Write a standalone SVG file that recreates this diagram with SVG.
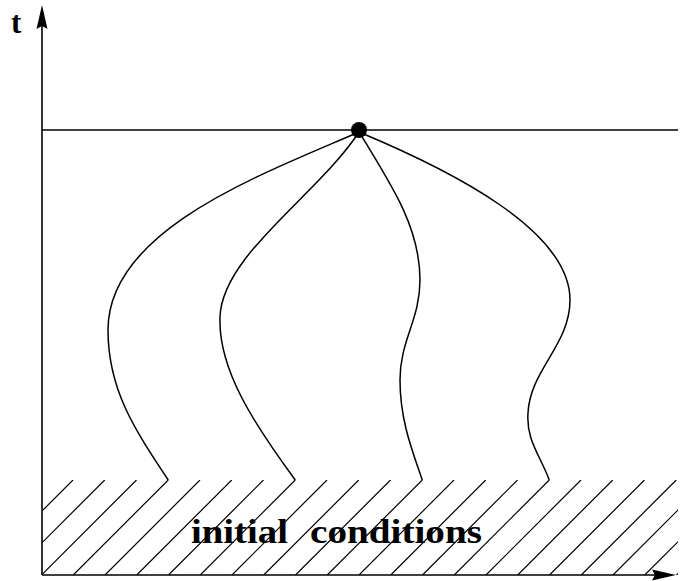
<svg xmlns="http://www.w3.org/2000/svg" width="684" height="581" viewBox="0 0 684 581">
<style>
.ax{stroke:#000;stroke-width:1.6;fill:none}
.cv{stroke:#000;stroke-width:1.5;fill:none}
.ht{stroke:#000;stroke-width:1.2;fill:none}
.lb{font-family:"Liberation Serif","DejaVu Serif",serif;font-weight:bold;fill:#000}
</style>
<defs>
<clipPath id="hc"><rect x="42" y="480" width="636" height="95"/></clipPath>
</defs>
<rect width="684" height="581" fill="#fff"/>
<g id="hatch" clip-path="url(#hc)" class="ht">
<path d="M41.25,480 l-95,95 M73,480 l-95,95 M104.75,480 l-95,95 M136.5,480 l-95,95 M168.25,480 l-95,95 M200,480 l-95,95 M231.75,480 l-95,95 M263.5,480 l-95,95 M295.25,480 l-95,95 M327,480 l-95,95 M358.75,480 l-95,95 M390.5,480 l-95,95 M422.25,480 l-95,95 M454,480 l-95,95 M485.75,480 l-95,95 M517.5,480 l-95,95 M549.25,480 l-95,95 M581,480 l-95,95 M612.75,480 l-95,95 M644.5,480 l-95,95 M676.25,480 l-95,95 M708,480 l-95,95 M739.75,480 l-95,95 M771.5,480 l-95,95"/>
</g>
<g id="axes">
<line class="ax" x1="42" y1="575" x2="42" y2="24"/>
<path d="M42,5 L47.5,29 L42,26 L36.5,29 Z" fill="#000"/>
<line class="ax" x1="42" y1="575" x2="656" y2="575"/>
<path d="M676,575 L652,569.5 L655,575 L652,580.5 Z" fill="#000"/>
<line class="ax" x1="42" y1="130" x2="678" y2="130"/>
</g>
<g id="connectors">
<path class="cv" d="M359,132 C260,175 108,230 108,330 C108,390 135,430 168.25,480"/>
<path class="cv" d="M359,132 C318,195 222,255 220,317 C218,370 255,425 295.25,480"/>
<path class="cv" d="M359,132 C395,190 420,230 420,280 C420,320 400,340 400,380 C400,420 412,450 422.25,480"/>
<path class="cv" d="M359,132 C450,170 570,230 570,300 C570,345 530,370 528,413 C526,440 540,455 549.25,480"/>
</g>
<g id="event">
<circle cx="359" cy="130" r="8" fill="#000"/>
</g>
<g id="label-t">
<text class="lb" x="11" y="33" font-size="31">t</text>
</g>
<g id="label-ic">
<text class="lb" x="191" y="543" font-size="34" textLength="97" lengthAdjust="spacingAndGlyphs">initial</text>
<text class="lb" x="310" y="543" font-size="34" textLength="172" lengthAdjust="spacingAndGlyphs">conditions</text>
</g>
</svg>
